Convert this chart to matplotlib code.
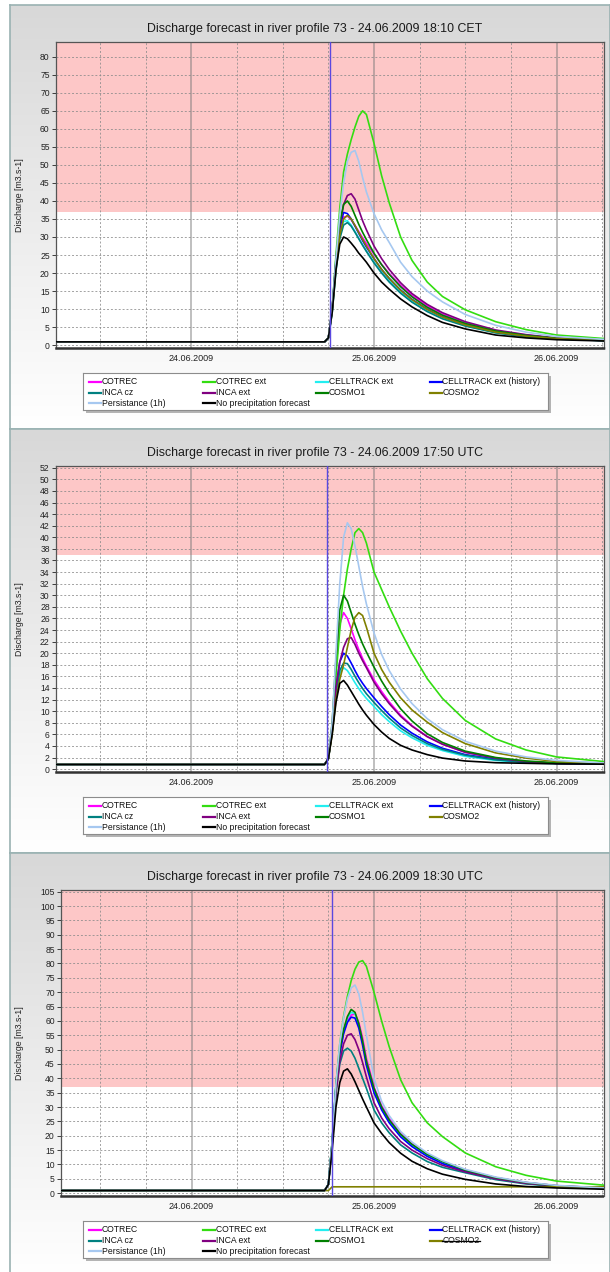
import matplotlib
matplotlib.use("Agg")
import numpy as np
import matplotlib.pyplot as plt
from matplotlib.patches import Rectangle
from matplotlib.colors import LinearSegmentedColormap

plt.rcParams['font.family'] = ['Liberation Sans', 'DejaVu Sans']

# hours from 24.06.2009 00:00
T = [-18, 17.5, 18.0, 18.5, 19.0, 19.5, 20.0, 20.5, 21.0, 21.5, 22.0, 22.5, 23.0,
     24.0, 25.0, 26.0, 27.5, 29.0, 31.0, 33.0, 36.0, 40.0, 44.0, 48.0, 55.0]

names = ["COTREC", "COTREC ext", "CELLTRACK ext", "CELLTRACK ext (history)",
         "INCA cz", "INCA ext", "COSMO1", "COSMO2",
         "Persistance (1h)", "No precipitation forecast"]
colors = ["#ff00ff", "#33dd11", "#22eef0", "#0000ff",
          "#008080", "#800080", "#008000", "#808000",
          "#a6c8f0", "#000000"]

titles = ["Discharge forecast in river profile 73 - 24.06.2009 18:10 CET",
          "Discharge forecast in river profile 73 - 24.06.2009 17:50 UTC",
          "Discharge forecast in river profile 73 - 24.06.2009 18:30 UTC"]
forecast_hour = [18.17, 17.83, 18.5]
y_top = [84.1, 52.3, 105.6]
y_bottom = [-0.8, -0.5, -1.0]
y_step = [5, 2, 5]
alarm_level = 37

# panel 1 (18:10 CET)
p1_cotrec = [0.9, 0.9, 2.0, 10, 22.5, 31.5, 35.5, 35.8, 34.8, 33.2, 31.5, 29.8, 28.2, 25.2, 22.4, 19.9, 16.6, 13.8, 10.9, 8.6, 6.2, 4.0, 2.8, 1.9, 1.3]
p1_cotrec_ext = [0.9, 0.9, 2.0, 10, 25, 38, 48, 53, 57, 60.5, 63.5, 65, 64, 56, 47, 39.5, 30, 23.5, 17.5, 13.5, 9.8, 6.5, 4.3, 2.8, 1.7]
p1_cell_ext = [0.9, 0.9, 2.0, 9.5, 21.5, 30.5, 34.3, 34.5, 33.3, 31.5, 29.6, 27.8, 26.1, 23, 20.2, 17.8, 14.7, 12.1, 9.5, 7.5, 5.4, 3.5, 2.4, 1.7, 1.2]
p1_cell_hist = [0.9, 0.9, 2.0, 10, 23, 32.5, 36.8, 36.5, 35, 33, 31, 29, 27.2, 24, 21, 18.5, 15.3, 12.7, 10, 7.9, 5.7, 3.7, 2.6, 1.8, 1.2]
p1_inca_cz = [0.9, 0.9, 2.0, 9, 20.5, 29.5, 33.3, 34, 33, 31.3, 29.5, 27.7, 26, 22.8, 20, 17.5, 14.4, 11.9, 9.3, 7.3, 5.3, 3.4, 2.3, 1.7, 1.2]
p1_inca_ext = [0.9, 0.9, 2.0, 10, 23, 33, 39, 41.5, 42, 40.5, 37.5, 34.5, 32, 27.5, 24, 21, 17.3, 14.3, 11.3, 9.0, 6.5, 4.2, 2.9, 2.0, 1.3]
p1_cosmo1 = [0.9, 0.9, 2.0, 10, 24, 34, 39, 40, 38.5, 36, 33.5, 31.3, 29.3, 25.5, 22.3, 19.6, 16.2, 13.4, 10.5, 8.3, 6.0, 3.9, 2.7, 1.9, 1.3]
p1_cosmo2 = [0.9, 0.9, 2.0, 9.5, 21.5, 30.5, 35, 36, 35, 33.2, 31.2, 29.3, 27.5, 24, 21, 18.5, 15.2, 12.6, 9.9, 7.8, 5.6, 3.6, 2.5, 1.8, 1.2]
p1_persist = [0.9, 0.9, 2.0, 10, 24, 36, 45, 51, 53.5, 54, 51, 46.5, 42.5, 36.5, 32, 28.5, 23, 19, 15, 12, 8.5, 5.5, 3.6, 2.4, 1.5]
p1_noprec = [0.9, 0.9, 2.0, 9, 21, 28, 30, 29.5, 28.3, 27, 25.5, 24.3, 23, 20, 17.5, 15.5, 12.8, 10.6, 8.2, 6.3, 4.5, 2.8, 2.0, 1.5, 1.1]

# panel 2 (17:50 UTC)
p2_cotrec = [0.8, 0.8, 1.8, 7.5, 17.5, 25, 27, 26, 24.2, 22.3, 20.6, 19.1, 17.8, 15.4, 13.4, 11.6, 9.3, 7.5, 5.6, 4.3, 2.9, 1.9, 1.3, 1.0, 0.9]
p2_cotrec_ext = [0.8, 0.8, 1.8, 7, 16, 24, 30, 34.5, 38, 40.8, 41.5, 40.8, 39, 34, 31, 28, 23.8, 20, 15.6, 12.2, 8.4, 5.2, 3.3, 2.1, 1.2]
p2_cell_ext = [0.8, 0.8, 1.8, 6.5, 12.8, 16.5, 17.5, 17, 16, 14.9, 13.9, 13, 12.2, 10.8, 9.4, 8.2, 6.6, 5.4, 4.1, 3.2, 2.2, 1.5, 1.1, 0.95, 0.9]
p2_cell_hist = [0.8, 0.8, 1.8, 7, 14, 18.5, 20, 19.5, 18.3, 17, 15.8, 14.8, 13.9, 12.3, 10.8, 9.4, 7.6, 6.2, 4.7, 3.6, 2.5, 1.7, 1.2, 1.0, 0.9]
p2_inca_cz = [0.8, 0.8, 1.8, 6.5, 13, 17, 18.3, 18.2, 17.2, 16, 14.9, 13.9, 13, 11.5, 10.1, 8.8, 7.1, 5.8, 4.4, 3.4, 2.4, 1.6, 1.2, 1.0, 0.9]
p2_inca_ext = [0.8, 0.8, 1.8, 6.5, 14, 18.5, 21, 22.5, 22.7, 21.5, 20, 18.7, 17.5, 15, 13, 11.3, 9.1, 7.4, 5.6, 4.3, 2.9, 1.9, 1.3, 1.0, 0.9]
p2_cosmo1 = [0.8, 0.8, 1.8, 8, 19, 27.5, 30, 29, 27, 25, 23.2, 21.6, 20.2, 17.6, 15.2, 13.1, 10.4, 8.3, 6.1, 4.6, 3.1, 2.0, 1.4, 1.1, 0.9]
p2_cosmo2 = [0.8, 0.8, 1.8, 6, 12, 15.5, 18, 21, 24, 26.2, 27, 26.5, 24.5, 20, 17.2, 15, 12.3, 10.2, 8.1, 6.3, 4.4, 2.8, 1.9, 1.3, 1.0]
p2_persist = [0.8, 0.8, 1.8, 8, 20, 32, 40, 42.5, 41.5, 38.5, 35, 31.5, 28.5, 23.5, 19.8, 17, 13.8, 11.3, 8.7, 6.8, 4.8, 3.1, 2.1, 1.5, 1.0]
p2_noprec = [0.8, 0.8, 1.8, 6, 11.5, 14.8, 15.3, 14.5, 13.4, 12.3, 11.2, 10.2, 9.3, 7.7, 6.4, 5.3, 4.1, 3.3, 2.5, 1.9, 1.4, 1.1, 1.0, 0.9, 0.85]

# panel 3 (18:30 UTC)
p3_cotrec = [0.9, 0.9, 3, 17.5, 37, 49, 56, 60, 62, 62.5, 59.5, 54, 47, 37, 30.5, 26, 20.8, 17.2, 13.6, 11, 8.1, 5.4, 3.7, 2.6, 1.7]
p3_cotrec_ext = [0.9, 0.9, 3, 18, 38, 52, 61.5, 68.5, 74, 78, 80.5, 81, 79, 70, 60, 51, 39.5, 31.5, 24.5, 19.7, 14, 9.2, 6.2, 4.2, 2.6]
p3_cell_ext = [0.9, 0.9, 3, 18, 37.5, 49.5, 56.5, 61, 63, 62.5, 58.5, 52.5, 45.5, 35.8, 29.5, 25, 20, 16.6, 13.1, 10.6, 7.8, 5.2, 3.6, 2.5, 1.6]
p3_cell_hist = [0.9, 0.9, 3, 17.5, 36.5, 48.5, 55.5, 59.5, 61.3, 61, 57.5, 51.5, 44.5, 35, 29, 24.5, 19.6, 16.2, 12.8, 10.3, 7.6, 5.1, 3.5, 2.4, 1.6]
p3_inca_cz = [0.9, 0.9, 3, 17, 35, 45, 49.5, 50.5, 49.5, 47, 43.5, 40, 36.5, 29, 24.5, 21, 16.8, 14, 11, 9, 7.1, 4.7, 3.2, 2.3, 1.5]
p3_inca_ext = [0.9, 0.9, 3, 17, 35, 46, 52, 55, 55.5, 53.5, 50, 45.5, 40.5, 31.5, 26.2, 22.4, 18, 15, 12, 9.7, 7.4, 5.0, 3.4, 2.5, 1.6]
p3_cosmo1 = [0.9, 0.9, 3, 18, 38, 50, 57, 61.5, 64, 63, 59, 53, 46, 36.5, 30, 25.5, 20.5, 17, 13.5, 11, 8, 5.4, 3.7, 2.6, 1.7]
p3_cosmo2 = [0.9, 0.9, 0.9, 2.2, 2.2, 2.2, 2.2, 2.2, 2.2, 2.2, 2.2, 2.2, 2.2, 2.2, 2.2, 2.2, 2.2, 2.2, 2.2, 2.2, 2.2, 2.2, 2.2, 2.2, 2.2]
p3_persist = [0.9, 0.9, 3, 18, 38, 52, 61, 67.5, 71.5, 72.5, 69.5, 63, 55, 40, 32, 27, 21.5, 17.8, 14, 11.3, 8.3, 5.6, 3.8, 2.7, 1.7]
p3_noprec = [0.9, 0.9, 3, 15, 30, 38.5, 42.5, 43.3, 41.5, 38.8, 35.8, 32.8, 30, 24.5, 20.8, 17.6, 13.9, 11.1, 8.5, 6.6, 4.8, 3.2, 2.3, 1.8, 1.3]

panels = [
    [p1_cotrec, p1_cotrec_ext, p1_cell_ext, p1_cell_hist, p1_inca_cz, p1_inca_ext, p1_cosmo1, p1_cosmo2, p1_persist, p1_noprec],
    [p2_cotrec, p2_cotrec_ext, p2_cell_ext, p2_cell_hist, p2_inca_cz, p2_inca_ext, p2_cosmo1, p2_cosmo2, p2_persist, p2_noprec],
    [p3_cotrec, p3_cotrec_ext, p3_cell_ext, p3_cell_hist, p3_inca_cz, p3_inca_ext, p3_cosmo1, p3_cosmo2, p3_persist, p3_noprec],
]
date_ticks = [0, 24, 48]
date_labels = ["24.06.2009", "25.06.2009", "26.06.2009"]

W, H = 610, 1272
fig = plt.figure(figsize=(W / 100, H / 100), dpi=100)


def box(left, top, width, height):
    # pixel box (from top-left) -> figure fraction
    return [left / W, 1 - (top + height) / H, width / W, height / H]


panel_tops = [5, 429, 853]
axes_left = [56, 56, 61]
axes_right = 604
px_per_hour = 182.5 / 24
grad = LinearSegmentedColormap.from_list("bg", ["#d8d8d8", "#ffffff"])

for i in range(3):
    top = panel_tops[i]
    # panel background
    bg = fig.add_axes(box(10, top, 600, 424), zorder=0)
    bg.imshow(np.linspace(0, 1, 200).reshape(-1, 1), aspect='auto', cmap=grad,
              extent=[0, 1, 0, 1])
    bg.set_xticks([])
    bg.set_yticks([])
    for s in bg.spines.values():
        s.set_color("#9ab2b2")
        s.set_linewidth(1.2)

    left = axes_left[i]
    ax = fig.add_axes(box(left, top + 37, axes_right - left, 306), zorder=2)
    x0 = 24 - (374 - left) / px_per_hour
    x1 = 24 + (axes_right - 374) / px_per_hour
    ax.set_xlim(x0, x1)
    ax.set_ylim(y_bottom[i], y_top[i])
    ax.axhspan(alarm_level, y_top[i], color="#fdc7c7", lw=0, zorder=0)

    yt = np.arange(0, y_top[i] + 0.01, y_step[i])
    ax.set_yticks(yt)
    ax.set_yticklabels([str(int(v)) for v in yt])
    for v in yt:
        ax.axhline(v, color="#8a8a8a", lw=0.7, dashes=(2, 2), alpha=0.8, zorder=1)
    for h in range(-12, 55, 6):
        if h % 24 == 0:
            ax.axvline(h, color="#777777", lw=1.2, alpha=0.55, zorder=1)
        else:
            ax.axvline(h, color="#8a8a8a", lw=0.7, dashes=(2, 2), alpha=0.8, zorder=1)

    for vals, c in zip(panels[i], colors):
        ax.plot(T, vals, color=c, lw=1.2, zorder=3)
    ax.axvline(forecast_hour[i], color="#5a48e0", lw=1.0, zorder=4)

    ax.set_xticks(date_ticks)
    ax.set_xticklabels(date_labels)
    ax.tick_params(axis='x', length=0, labelsize=6.5, pad=4, colors="#222222")
    ax.tick_params(axis='y', length=3, width=0.6, labelsize=6.2, pad=1.5,
                   colors="#222222")
    for s in ["left", "top", "right"]:
        ax.spines[s].set_color("#555555")
        ax.spines[s].set_linewidth(0.9)
    ax.spines["bottom"].set_color("#333333")
    ax.spines["bottom"].set_linewidth(1.8)
    ax.spines["bottom"].set_linestyle((0, (1.5, 1)))

    fig.text(315 / W, 1 - (top + 24) / H, titles[i], ha='center', va='center',
             fontsize=8.9, color="#1a1a1a")
    fig.text(20 / W, 1 - (top + 190) / H, "Discharge [m3.s-1]", rotation=90,
             ha='center', va='center', fontsize=6.3, color="#222222")

    # legend box with shadow
    lg_top = top + 368
    shadow = Rectangle(((83 + 3) / W, 1 - (lg_top + 37 + 3) / H), 465 / W, 37 / H,
                       transform=fig.transFigure, facecolor="#b4b4b4",
                       edgecolor="none", zorder=3)
    fig.patches.append(shadow)
    lax = fig.add_axes(box(83, lg_top, 465, 37), zorder=4)
    lax.set_xlim(0, 465)
    lax.set_ylim(37, 0)
    lax.set_xticks([])
    lax.set_yticks([])
    lax.set_facecolor("white")
    for s in lax.spines.values():
        s.set_color("#8c8c8c")
        s.set_linewidth(0.8)
    for k, (name, c) in enumerate(zip(names, colors)):
        col, row = k % 4, k // 4
        lx = 6 + col * 113.5
        ly = 9 + row * 10.5
        lax.plot([lx, lx + 12], [ly, ly], color=c, lw=1.6)
        t = lax.text(lx + 13, ly, name, fontsize=6.2, va='center', ha='left',
                     color="#111111")
        if i == 2 and name == "COSMO2":
            fig.canvas.draw()
            bb = t.get_window_extent().transformed(lax.transData.inverted())
            lax.plot([lx + 12, bb.x1], [ly + 0.5, ly + 0.5], color="black", lw=0.9)

fig.savefig("out.png", dpi=100)
